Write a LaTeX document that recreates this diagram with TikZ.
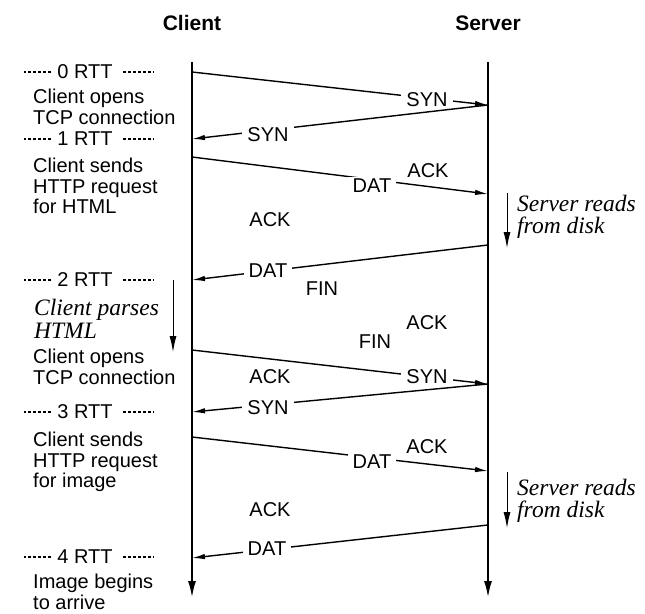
\documentclass[tikz,border=0pt]{standalone}
\usepackage{fontspec}
\setmainfont{Liberation Sans}
\newfontfamily\timesfont{Liberation Serif}
\usetikzlibrary{arrows.meta}
\begin{document}
\begin{tikzpicture}[x=1pt,y=-1pt,
  txt/.style={font=\fontsize{20}{20.5}\selectfont, inner sep=0pt},
  ttl/.style={font=\fontsize{21}{24}\selectfont\bfseries, inner sep=0pt},
  lbl/.style={txt, fill=white, inner xsep=5pt, inner ysep=2pt},
  note/.style={txt, align=left, anchor=west},
  itnote/.style={font=\fontsize{23.5}{22.5}\selectfont\timesfont\itshape, inner sep=0pt, align=left, anchor=west},
  life/.style={line width=1.4pt, -{Latex[length=16pt,width=8pt]}},
  msg/.style={line width=1.4pt, -{Latex[length=13pt,width=5.5pt]}},
  wait/.style={line width=1pt, -{Latex[length=16pt,width=7pt]}},
  rttdash/.style={line width=1.1pt, dash pattern=on 3pt off 2pt},
  rtt/.style={txt}]
\useasboundingbox (0,0) rectangle (645,613);

% titles
\node[ttl] (client) at (192,23) {Client};
\node[ttl] (server) at (488,23) {Server};

% lifelines
\coordinate (ctop) at (192,62);
\coordinate (cbot) at (192,597);
\coordinate (stop) at (488,62);
\coordinate (sbot) at (488,597);
\draw[life] (ctop) -- (cbot);
\draw[life] (stop) -- (sbot);

% message end points
\coordinate (c1) at (192,72);
\coordinate (s1) at (488,105);
\coordinate (c2) at (192,139);
\coordinate (c3) at (192,157);
\coordinate (s3) at (488,194);
\coordinate (s4) at (488,245);
\coordinate (c4) at (192,280);
\coordinate (c5) at (192,350);
\coordinate (s5) at (488,384);
\coordinate (c6) at (192,412);
\coordinate (c7) at (192,437);
\coordinate (s7) at (488,471);
\coordinate (s8) at (488,525);
\coordinate (c8) at (192,558);

% messages
\draw[msg] (c1) -- (s1);
\node[lbl] (syn1) at (427,100) {SYN};
\draw[msg] (s1) -- (c2);
\node[lbl] (syn2) at (268,135) {SYN};
\draw[msg] (c3) -- (s3);
\node[lbl] (dat1) at (372,186) {DAT};
\node[txt] (ack1) at (428,171) {ACK};
\node[txt] (ack2) at (270,220) {ACK};
\draw[msg] (s4) -- (c4);
\node[lbl] (dat2) at (268,271) {DAT};
\node[txt] (fin1) at (322,289) {FIN};
\node[txt] (ack3) at (427,323) {ACK};
\node[txt] (fin2) at (375,342) {FIN};
\draw[msg] (c5) -- (s5);
\node[lbl] (syn3) at (427,377) {SYN};
\node[txt] (ack4) at (270,377) {ACK};
\draw[msg] (s5) -- (c6);
\node[lbl] (syn4) at (268,408) {SYN};
\draw[msg] (c7) -- (s7);
\node[lbl] (dat3) at (372,462) {DAT};
\node[txt] (ack5) at (427,447) {ACK};
\node[txt] (ack6) at (270,510) {ACK};
\draw[msg] (s8) -- (c8);
\node[lbl] (dat4) at (267,549) {DAT};

% server reads from disk
\coordinate (w1a) at (507,193);
\coordinate (w1b) at (507,248);
\draw[wait] (w1a) -- (w1b);
\node[itnote] (read1) at (517,217) {Server reads\\from disk};
\coordinate (w2a) at (507,472);
\coordinate (w2b) at (507,528);
\draw[wait] (w2a) -- (w2b);
\node[itnote] (read2) at (517,501) {Server reads\\from disk};

% client parses
\coordinate (p1) at (173,280);
\coordinate (p2) at (173,352);
\draw[wait] (p1) -- (p2);
\node[itnote] (parse) at (34,319) {Client parses\\HTML};

% RTT markers
\foreach \n/\y in {0/72,1/139,2/280,3/412,4/557}{
  \node[rtt] (r\n) at (85,\y) {\n\ RTT};
  \draw[rttdash] (r\n.west) ++(-6,0) -- ++(-27,0);
  \draw[rttdash] (r\n.east) ++(10,0) -- ++(31,0);
}

% client notes
\node[note] (n1) at (33,107) {Client opens\\TCP connection};
\node[note] (n2) at (33,186) {Client sends\\HTTP request\\for HTML};
\node[note] (n3) at (33,367) {Client opens\\TCP connection};
\node[note] (n4) at (33,462) {Client sends\\HTTP request\\for image};
\node[note] (n5) at (33,592) {Image begins\\to arrive};
\end{tikzpicture}
\end{document}
